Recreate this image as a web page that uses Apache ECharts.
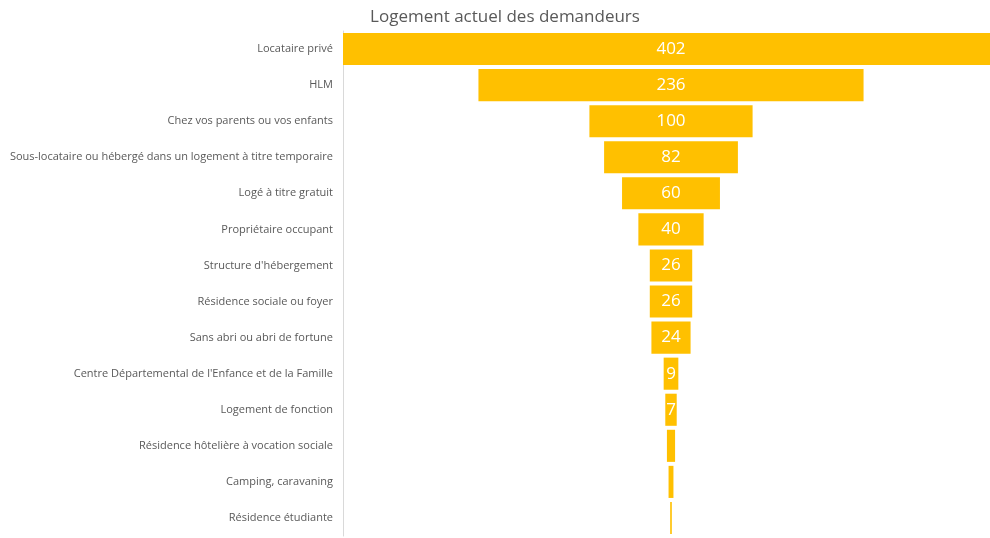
<!DOCTYPE html>
<html>
<head>
<meta charset="utf-8">
<script src="https://cdn.jsdelivr.net/npm/echarts@6/dist/echarts.min.js"></script>
<style>html,body{margin:0;padding:0;background:#fff}#c{width:990px;height:538px}</style>
</head>
<body>
<div id="c"></div>
<script>
const categories = [
  "Locataire privé",
  "HLM",
  "Chez vos parents ou vos enfants",
  "Sous-locataire ou hébergé dans un logement à titre temporaire",
  "Logé à titre gratuit",
  "Propriétaire occupant",
  "Structure d'hébergement",
  "Résidence sociale ou foyer",
  "Sans abri ou abri de fortune",
  "Centre Départemental de l'Enfance et de la Famille",
  "Logement de fonction",
  "Résidence hôtelière à vocation sociale",
  "Camping, caravaning",
  "Résidence étudiante"
];
const values = [402, 236, 100, 82, 60, 40, 26, 26, 24, 9, 7, 5, 3, 1];
const maxValue = 402;

const chart = echarts.init(document.getElementById('c'), null, {renderer: 'canvas'});
const offsets = values.map(v => (maxValue - v) / 2);
chart.setOption({
  animation: false,
  backgroundColor: '#ffffff',
  title: {
    text: 'Logement actuel des demandeurs',
    left: 500, top: 4, textAlign: 'center',
    textStyle: {fontFamily: 'Open Sans', fontSize: 17, fontWeight: 'normal', color: '#595959'}
  },
  grid: {left: 343, width: 656, top: 31, bottom: 2, containLabel: false, outerBoundsMode: 'none'},
  xAxis: {type: 'value', min: 0, max: maxValue, show: false},
  yAxis: {
    type: 'category', data: categories, inverse: true,
    axisLine: {show: true, lineStyle: {color: '#d9d9d9', width: 1}},
    axisTick: {show: false},
    axisLabel: {fontFamily: 'Open Sans', fontSize: 11, color: '#595959', margin: 10}
  },
  series: [
    {
      type: 'bar', stack: 'f', data: offsets, barCategoryGap: '11%',
      itemStyle: {color: 'rgba(0,0,0,0)'}, silent: true
    },
    {
      type: 'bar', stack: 'f', barCategoryGap: '11%',
      data: values.map(v => ({value: v, label: {show: v >= 7}})),
      itemStyle: {color: '#FFC000'},
      label: {position: 'inside', color: '#ffffff', fontFamily: 'Open Sans', fontSize: 17}
    }
  ]
});
</script>
</body>
</html>
